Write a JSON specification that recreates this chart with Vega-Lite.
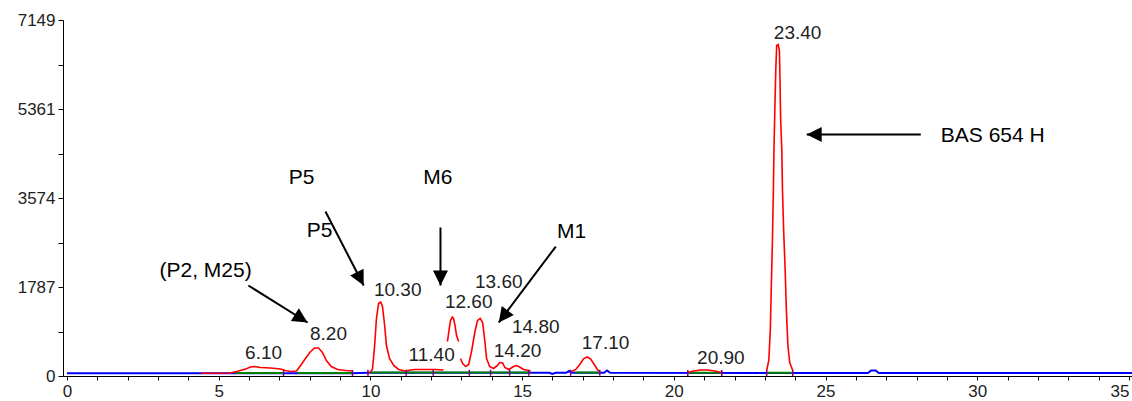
{
  "$schema": "https://vega.github.io/schema/vega-lite/v6.json",
  "width": 1069,
  "height": 356,
  "autosize": {"type": "none"},
  "padding": {"left": 63, "top": 20, "right": 0, "bottom": 25},
  "background": "white",
  "config": {"view": {"stroke": null}, "font": "Liberation Sans"},
  "resolve": {"axis": {"x": "independent", "y": "independent"}},
  "datasets": {
    "blue": [
      {"t": 0, "v": 56}, {"t": 9.4, "v": 56}, {"t": 9.9, "v": 65}, {"t": 15.9, "v": 65},
      {"t": 16.0, "v": 40}, {"t": 16.1, "v": 65}, {"t": 16.45, "v": 65}, {"t": 16.55, "v": 100},
      {"t": 16.65, "v": 65}, {"t": 17.7, "v": 65}, {"t": 17.8, "v": 110}, {"t": 17.9, "v": 65},
      {"t": 26.4, "v": 60}, {"t": 26.5, "v": 110}, {"t": 26.65, "v": 110}, {"t": 26.75, "v": 60},
      {"t": 35.1, "v": 60}
    ],
    "green": [
      {"seg": 1, "t": 5.56, "v": 60}, {"seg": 1, "t": 7.15, "v": 60},
      {"seg": 2, "t": 7.6, "v": 60}, {"seg": 2, "t": 9.41, "v": 60},
      {"seg": 3, "t": 9.98, "v": 70}, {"seg": 3, "t": 15.28, "v": 70},
      {"seg": 4, "t": 16.75, "v": 70}, {"seg": 4, "t": 17.56, "v": 70},
      {"seg": 5, "t": 20.46, "v": 65}, {"seg": 5, "t": 21.58, "v": 65},
      {"seg": 6, "t": 23.06, "v": 65}, {"seg": 6, "t": 23.92, "v": 65}
    ],
    "red": [
      {"seg": 1, "t": 4.43, "v": 56}, {"seg": 1, "t": 5.39, "v": 60}, {"seg": 1, "t": 5.65, "v": 100},
      {"seg": 1, "t": 5.89, "v": 141}, {"seg": 1, "t": 6.05, "v": 181}, {"seg": 1, "t": 6.18, "v": 191},
      {"seg": 1, "t": 6.38, "v": 171}, {"seg": 1, "t": 6.71, "v": 161}, {"seg": 1, "t": 7.04, "v": 141},
      {"seg": 1, "t": 7.2, "v": 110}, {"seg": 1, "t": 7.37, "v": 90}, {"seg": 1, "t": 7.57, "v": 100},
      {"seg": 1, "t": 7.7, "v": 211}, {"seg": 1, "t": 7.86, "v": 351}, {"seg": 1, "t": 8.03, "v": 492},
      {"seg": 1, "t": 8.16, "v": 562}, {"seg": 1, "t": 8.29, "v": 562}, {"seg": 1, "t": 8.42, "v": 472},
      {"seg": 1, "t": 8.55, "v": 311}, {"seg": 1, "t": 8.71, "v": 191}, {"seg": 1, "t": 8.92, "v": 131},
      {"seg": 1, "t": 9.18, "v": 110}, {"seg": 1, "t": 9.41, "v": 100},
      {"seg": 2, "t": 9.97, "v": 56}, {"seg": 2, "t": 10.07, "v": 141}, {"seg": 2, "t": 10.14, "v": 612},
      {"seg": 2, "t": 10.2, "v": 1155}, {"seg": 2, "t": 10.27, "v": 1456}, {"seg": 2, "t": 10.34, "v": 1486},
      {"seg": 2, "t": 10.4, "v": 1396}, {"seg": 2, "t": 10.47, "v": 1014}, {"seg": 2, "t": 10.53, "v": 612},
      {"seg": 2, "t": 10.63, "v": 351}, {"seg": 2, "t": 10.77, "v": 211}, {"seg": 2, "t": 10.93, "v": 131},
      {"seg": 2, "t": 11.16, "v": 100}, {"seg": 2, "t": 11.32, "v": 120}, {"seg": 2, "t": 11.49, "v": 131},
      {"seg": 2, "t": 11.82, "v": 131}, {"seg": 2, "t": 12.15, "v": 131}, {"seg": 2, "t": 12.41, "v": 120},
      {"seg": 3, "t": 12.54, "v": 693}, {"seg": 3, "t": 12.59, "v": 914}, {"seg": 3, "t": 12.64, "v": 1114},
      {"seg": 3, "t": 12.7, "v": 1181}, {"seg": 3, "t": 12.74, "v": 1155}, {"seg": 3, "t": 12.79, "v": 1014},
      {"seg": 3, "t": 12.84, "v": 813}, {"seg": 3, "t": 12.91, "v": 693},
      {"seg": 4, "t": 12.97, "v": 351}, {"seg": 4, "t": 13.04, "v": 251}, {"seg": 4, "t": 13.14, "v": 191},
      {"seg": 4, "t": 13.24, "v": 231}, {"seg": 4, "t": 13.34, "v": 512}, {"seg": 4, "t": 13.44, "v": 873},
      {"seg": 4, "t": 13.53, "v": 1114}, {"seg": 4, "t": 13.62, "v": 1155}, {"seg": 4, "t": 13.7, "v": 1074},
      {"seg": 4, "t": 13.77, "v": 713}, {"seg": 4, "t": 13.83, "v": 351}, {"seg": 4, "t": 13.93, "v": 191},
      {"seg": 4, "t": 14.06, "v": 151}, {"seg": 4, "t": 14.19, "v": 211}, {"seg": 4, "t": 14.26, "v": 271},
      {"seg": 4, "t": 14.36, "v": 261}, {"seg": 4, "t": 14.43, "v": 171}, {"seg": 4, "t": 14.56, "v": 131},
      {"seg": 4, "t": 14.72, "v": 191}, {"seg": 4, "t": 14.82, "v": 211}, {"seg": 4, "t": 14.92, "v": 181},
      {"seg": 4, "t": 15.05, "v": 131}, {"seg": 4, "t": 15.28, "v": 100},
      {"seg": 5, "t": 16.63, "v": 90}, {"seg": 5, "t": 16.77, "v": 131}, {"seg": 5, "t": 16.9, "v": 231},
      {"seg": 5, "t": 17.03, "v": 351}, {"seg": 5, "t": 17.15, "v": 382}, {"seg": 5, "t": 17.26, "v": 341},
      {"seg": 5, "t": 17.4, "v": 211}, {"seg": 5, "t": 17.49, "v": 120}, {"seg": 5, "t": 17.56, "v": 90},
      {"seg": 6, "t": 20.46, "v": 70}, {"seg": 6, "t": 20.65, "v": 100}, {"seg": 6, "t": 20.89, "v": 120},
      {"seg": 6, "t": 21.12, "v": 120}, {"seg": 6, "t": 21.35, "v": 100}, {"seg": 6, "t": 21.58, "v": 70},
      {"seg": 7, "t": 23.06, "v": 110}, {"seg": 7, "t": 23.13, "v": 311}, {"seg": 7, "t": 23.18, "v": 914},
      {"seg": 7, "t": 23.21, "v": 1717}, {"seg": 7, "t": 23.25, "v": 2721}, {"seg": 7, "t": 23.28, "v": 3685},
      {"seg": 7, "t": 23.3, "v": 4528}, {"seg": 7, "t": 23.33, "v": 5371}, {"seg": 7, "t": 23.36, "v": 6134},
      {"seg": 7, "t": 23.39, "v": 6636}, {"seg": 7, "t": 23.44, "v": 6656}, {"seg": 7, "t": 23.48, "v": 6536},
      {"seg": 7, "t": 23.5, "v": 5934}, {"seg": 7, "t": 23.52, "v": 5171}, {"seg": 7, "t": 23.56, "v": 4528},
      {"seg": 7, "t": 23.58, "v": 3765}, {"seg": 7, "t": 23.62, "v": 2921}, {"seg": 7, "t": 23.67, "v": 2118},
      {"seg": 7, "t": 23.71, "v": 1315}, {"seg": 7, "t": 23.76, "v": 612}, {"seg": 7, "t": 23.82, "v": 271},
      {"seg": 7, "t": 23.92, "v": 110}
    ],
    "marks": [
      {"t": 7.14, "v": 60}, {"t": 9.41, "v": 60}, {"t": 9.92, "v": 65}, {"t": 11.18, "v": 65},
      {"t": 12.07, "v": 65}, {"t": 13.26, "v": 65}, {"t": 13.96, "v": 65}, {"t": 14.59, "v": 65},
      {"t": 15.22, "v": 65}, {"t": 16.6, "v": 65}, {"t": 17.56, "v": 65}, {"t": 20.46, "v": 60},
      {"t": 21.58, "v": 60}, {"t": 23.06, "v": 60}, {"t": 23.92, "v": 60}
    ],
    "peaks": [
      {"label": "6.10", "t": 6.48, "v": 452},
      {"label": "8.20", "t": 8.62, "v": 853},
      {"label": "10.30", "t": 10.9, "v": 1737},
      {"label": "11.40", "t": 12.02, "v": 412},
      {"label": "12.60", "t": 13.24, "v": 1476},
      {"label": "13.60", "t": 14.23, "v": 1878},
      {"label": "14.80", "t": 15.45, "v": 994},
      {"label": "14.20", "t": 14.85, "v": 512},
      {"label": "17.10", "t": 17.75, "v": 653},
      {"label": "20.90", "t": 21.55, "v": 371},
      {"label": "23.40", "t": 24.08, "v": 6897}
    ],
    "notes": [
      {"label": "(P2, M25)", "t": 4.57, "v": 2118},
      {"label": "P5", "t": 7.73, "v": 3986},
      {"label": "P5", "t": 8.33, "v": 2921},
      {"label": "M6", "t": 12.22, "v": 3986},
      {"label": "M1", "t": 16.63, "v": 2882},
      {"label": "BAS 654 H", "t": 30.51, "v": 4810}
    ],
    "arrows": [
      {"name": "P2", "t1": 5.98, "v1": 1817, "t2": 7.93, "v2": 1074},
      {"name": "P5", "t1": 8.52, "v1": 3303, "t2": 9.78, "v2": 1817},
      {"name": "M6", "t1": 12.31, "v1": 2982, "t2": 12.31, "v2": 1817},
      {"name": "M1", "t1": 16.11, "v1": 2600, "t2": 14.23, "v2": 1074},
      {"name": "BAS", "t1": 28.14, "v1": 4850, "t2": 24.38, "v2": 4850}
    ]
  },
  "layer": [
    {
      "data": {"name": "blue"},
      "mark": {"type": "line", "color": "#0000ff", "strokeWidth": 2, "interpolate": "linear"},
      "encoding": {
        "x": {
          "field": "t", "type": "quantitative",
          "scale": {"domain": [-0.13, 35.1], "nice": false, "zero": false},
          "axis": {
            "values": [0, 5, 10, 15, 20, 25, 30, 35],
            "orient": "bottom",
            "labelAlign": {"condition": {"test": "datum.value >= 35", "value": "right"}, "value": "center"},
            "title": null, "grid": false, "labelFlush": false, "labelOverlap": false,
            "domainColor": "#000", "tickColor": "#000", "tickSize": 4, "labelPadding": 3,
            "labelFont": "Liberation Sans", "labelFontSize": 17, "labelColor": "#222"
          }
        },
        "y": {
          "field": "v", "type": "quantitative",
          "scale": {"domain": [0, 7149], "nice": false, "zero": false},
          "axis": {
            "values": [0, 1787, 3574, 5361, 7149],
            "orient": "left",
            "format": "d",
            "title": null, "grid": false, "labelOverlap": false, "labelFlush": false,
            "domainColor": "#000", "tickColor": "#000", "tickSize": 5, "labelPadding": 3,
            "labelFont": "Liberation Sans", "labelFontSize": 17, "labelColor": "#222"
          }
        }
      }
    },
    {
      "data": {"name": "green"},
      "mark": {"type": "line", "color": "#008000", "strokeWidth": 2},
      "encoding": {
        "x": {
          "field": "t", "type": "quantitative",
          "axis": {
            "values": [1,2,3,4,6,7,8,9,11,12,13,14,16,17,18,19,21,22,23,24,26,27,28,29,31,32,33,34],
            "orient": "bottom", "labels": false, "domain": false, "title": null, "grid": false,
            "tickColor": "#000", "tickSize": 4
          }
        },
        "y": {
          "field": "v", "type": "quantitative",
          "axis": {
            "values": [893.5, 2680.5, 4467.5, 6255],
            "orient": "left", "labels": false, "domain": false, "title": null, "grid": false,
            "tickColor": "#000", "tickSize": 5
          }
        },
        "detail": {"field": "seg", "type": "nominal"}
      }
    },
    {
      "data": {"name": "red"},
      "mark": {"type": "line", "color": "#ff0000", "strokeWidth": 1.6},
      "encoding": {
        "x": {"field": "t", "type": "quantitative", "axis": null},
        "y": {"field": "v", "type": "quantitative", "axis": null},
        "detail": {"field": "seg", "type": "nominal"}
      }
    },
    {
      "data": {"name": "marks"},
      "mark": {"type": "tick", "orient": "vertical", "color": "#800080", "size": 6, "thickness": 1.5, "opacity": 1},
      "encoding": {
        "x": {"field": "t", "type": "quantitative", "axis": null},
        "y": {"field": "v", "type": "quantitative", "axis": null}
      }
    },
    {
      "data": {"name": "peaks"},
      "mark": {"type": "text", "font": "Liberation Sans", "fontSize": 19, "color": "#222", "align": "center", "baseline": "middle"},
      "encoding": {
        "x": {"field": "t", "type": "quantitative", "axis": null},
        "y": {"field": "v", "type": "quantitative", "axis": null},
        "text": {"field": "label"}
      }
    },
    {
      "data": {"name": "notes"},
      "mark": {"type": "text", "font": "Liberation Sans", "fontSize": 21, "color": "#000", "align": "center", "baseline": "middle"},
      "encoding": {
        "x": {"field": "t", "type": "quantitative", "axis": null},
        "y": {"field": "v", "type": "quantitative", "axis": null},
        "text": {"field": "label"}
      }
    },
    {
      "data": {"name": "arrows"},
      "mark": {"type": "rule", "color": "#000", "strokeWidth": 2},
      "encoding": {
        "x": {"field": "t1", "type": "quantitative", "axis": null},
        "y": {"field": "v1", "type": "quantitative", "axis": null},
        "x2": {"field": "t2"},
        "y2": {"field": "v2"}
      }
    },
    {
      "data": {"name": "arrows"},
      "mark": {"type": "point", "shape": "M0,0L-0.5,1L0.5,1Z", "filled": true, "color": "#000", "size": 900, "opacity": 1, "strokeWidth": 0},
      "encoding": {
        "x": {"field": "t2", "type": "quantitative", "axis": null},
        "y": {"field": "v2", "type": "quantitative", "axis": null},
        "angle": {
          "field": "name", "type": "nominal",
          "scale": {"type": "ordinal", "domain": ["P2", "P5", "M6", "M1", "BAS"], "range": [122, 153, 180, 217, 270]},
          "legend": null
        }
      }
    }
  ]
}
